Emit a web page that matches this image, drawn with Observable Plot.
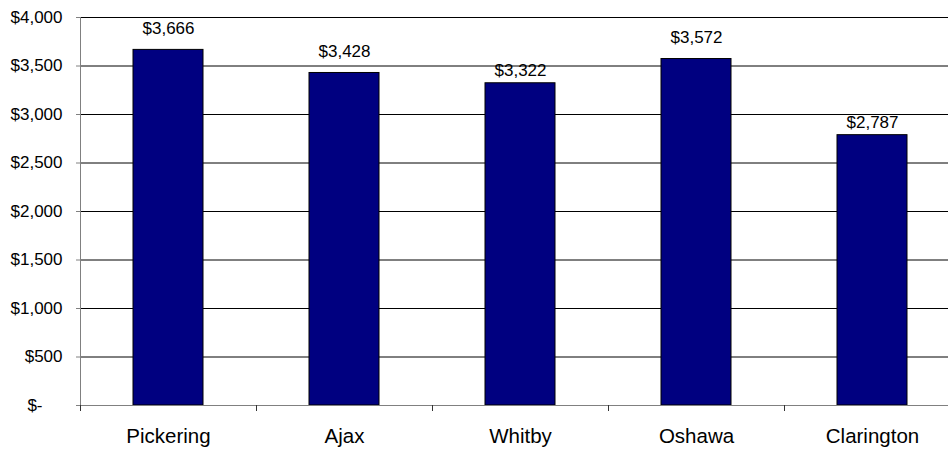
<!DOCTYPE html>
<html><head><meta charset="utf-8">
<script src="https://cdn.jsdelivr.net/npm/d3@7"></script>
<script src="https://cdn.jsdelivr.net/npm/@observablehq/plot@0.6"></script>
<style>html,body{margin:0;padding:0;background:#fff} svg{display:block}</style>
</head><body><div id="chart"></div>
<script>
const categories = ["Pickering", "Ajax", "Whitby", "Oshawa", "Clarington"];
const costs = [3666, 3428, 3322, 3572, 2787];
const yTicks = [0, 500, 1000, 1500, 2000, 2500, 3000, 3500, 4000];
const lowerLabelled = ["Whitby", "Clarington"];

const data = categories.map((c, i) => ({category: c, cost: costs[i]}));
const W = 948, H = 449, mL = 80, mR = -12, mT = 17, mB = 44;
const step = (W - mL - mR) / categories.length;
const money = d3.format(",");
const fmt = d => d === 0 ? "" : "$" + money(d);
const font = "'Liberation Sans', Arial, sans-serif";

const chart = Plot.plot({
  width: W, height: H, marginLeft: mL, marginRight: mR, marginTop: mT, marginBottom: mB,
  style: {fontFamily: font, background: "#fff", color: "#000"},
  x: {domain: categories, paddingInner: 0.6, paddingOuter: 0.3, align: 0.5, label: null},
  y: {domain: [0, 4000], label: null},
  marks: [
    Plot.ruleY(yTicks.filter(d => d > 0), {stroke: "#000"}),
    Plot.barY(data, {x: "category", y: "cost", fill: "#000080", stroke: "#000", strokeWidth: 1}),
    Plot.ruleY([0], {stroke: "#808080"}),
    Plot.ruleX([categories[0]], {y1: 0, y2: 4000, dx: -step / 2, stroke: "#808080"}),
    Plot.axisY(yTicks, {tickSize: 4, tickPadding: 14, tickFormat: fmt, fontSize: 17, stroke: "#808080", fill: "#000", label: null}),
    Plot.axisY([0], {tickSize: 0, tickPadding: 38, tickFormat: () => "$-", fontSize: 17, fill: "#000", label: null}),
    Plot.axisX({tickSize: 0, tickPadding: 23, fontSize: 20.5, fill: "#000", label: null}),
    Plot.axisX(categories, {tickSize: 6, dx: -step / 2, tickFormat: () => "", stroke: "#333", label: null}),
    Plot.text(data.filter(d => !lowerLabelled.includes(d.category)),
      {x: "category", y: "cost", text: d => "$" + money(d.cost), dy: -21, fontSize: 17, fill: "#000"}),
    Plot.text(data.filter(d => lowerLabelled.includes(d.category)),
      {x: "category", y: "cost", text: d => "$" + money(d.cost), dy: -13, fontSize: 17, fill: "#000"})
  ]
});
document.getElementById("chart").appendChild(chart);
</script>
</body></html>
